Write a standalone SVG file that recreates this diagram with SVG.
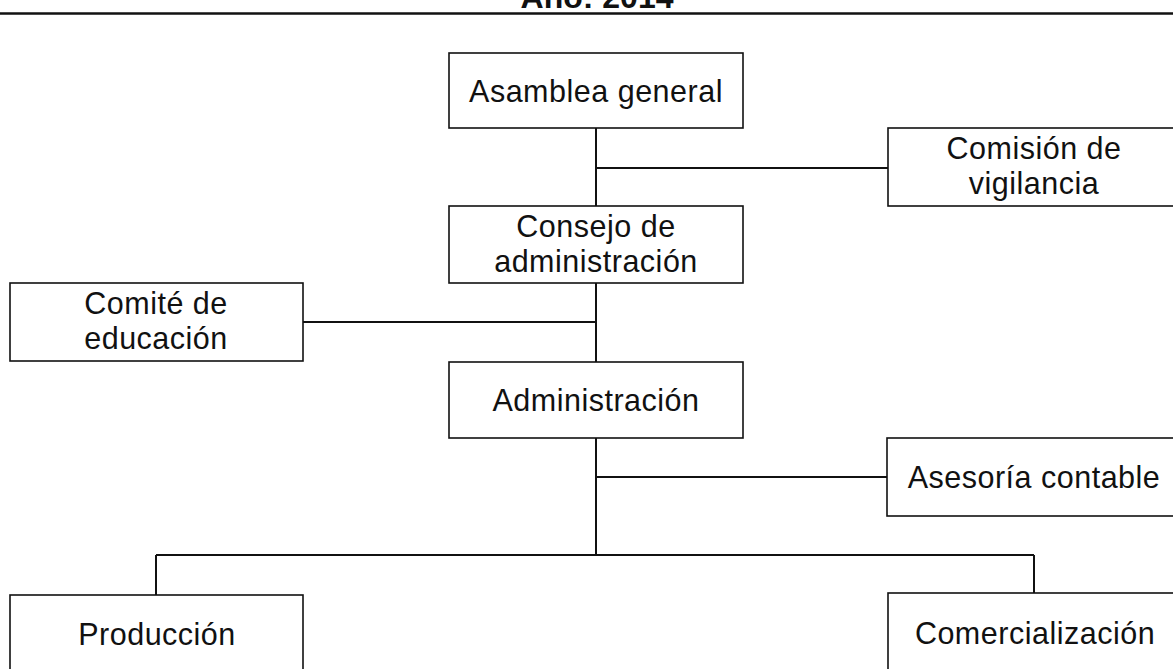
<svg xmlns="http://www.w3.org/2000/svg" width="1173" height="669" viewBox="0 0 1173 669">
<style>
.box{fill:#fff;stroke:#111;stroke-width:1.6}
.t{font-family:"Liberation Sans",Arial,sans-serif;font-size:30.5px;fill:#111;text-anchor:middle;letter-spacing:0.5px}
.title{font-family:"Liberation Sans",Arial,sans-serif;font-size:32px;font-weight:bold;fill:#111;text-anchor:middle}
.c{stroke:#111;stroke-width:2;fill:none}
</style>
<rect width="1173" height="669" fill="#fff"/>
<g id="header">
<text class="title" x="597" y="8">Año: 2014</text>
<line x1="0" y1="13.5" x2="1173" y2="13.5" stroke="#111" stroke-width="2.5"/>
</g>
<g id="connectors">
<path class="c" d="M596 128V206M596 168H888M596 283V362M303 322H596M596 438V555M596 477H887M156 555H1034M156 555V595M1034 555V593"/>
</g>
<g id="asamblea">
<rect class="box" x="449" y="53" width="294" height="75"/>
<text class="t" x="596" y="102">Asamblea general</text>
</g>
<g id="comision">
<rect class="box" x="888" y="128" width="300" height="78"/>
<text class="t" x="1034" y="159">Comisión de</text>
<text class="t" x="1034" y="194">vigilancia</text>
</g>
<g id="consejo">
<rect class="box" x="449" y="206" width="294" height="77"/>
<text class="t" x="596" y="237">Consejo de</text>
<text class="t" x="596" y="272">administración</text>
</g>
<g id="comite">
<rect class="box" x="10" y="283" width="293" height="78"/>
<text class="t" x="156" y="314">Comité de</text>
<text class="t" x="156" y="349">educación</text>
</g>
<g id="administracion">
<rect class="box" x="449" y="362" width="294" height="76"/>
<text class="t" x="596" y="411">Administración</text>
</g>
<g id="asesoria">
<rect class="box" x="887" y="438" width="300" height="78"/>
<text class="t" x="1034" y="488">Asesoría contable</text>
</g>
<g id="produccion">
<rect class="box" x="10" y="595" width="293" height="100"/>
<text class="t" x="157" y="645">Producción</text>
</g>
<g id="comercializacion">
<rect class="box" x="888" y="593" width="300" height="100"/>
<text class="t" x="1035" y="644">Comercialización</text>
</g>
</svg>
